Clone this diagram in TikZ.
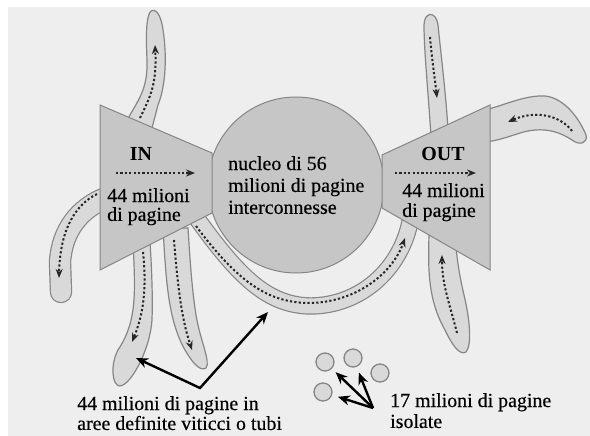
\documentclass[tikz,border=0pt]{standalone}
\usepackage{fontspec}
\setmainfont{LiberationSerif}[Extension=.ttf, UprightFont=*-Regular, BoldFont=*-Bold,
  ItalicFont=*-Italic, BoldItalicFont=*-BoldItalic, UprightFeatures={FakeBold=0.4}]
\usetikzlibrary{arrows.meta}
\definecolor{bggray}{HTML}{EEEEEE}
\definecolor{bodygray}{HTML}{C6C6C6}
\definecolor{tubegray}{HTML}{D9D9D9}
\definecolor{edgegray}{HTML}{868686}

\begin{document}
\begin{tikzpicture}[x=1bp,y=-1bp,
    tube/.style={draw=tubegray, line width=#1, line cap=round, line join=round,
      preaction={draw=edgegray, line width=#1+2.4bp, line cap=round, line join=round}},
    tubeshape/.style={fill=tubegray, draw=edgegray, line width=1.2bp},
    flow/.style={draw=black!85, line width=2bp, dash pattern=on 2.2bp off 2.2bp,
      -{Stealth[length=9bp,width=7bp]}},
    pointer/.style={draw=black, line width=2.4bp, -{Stealth[length=12bp,width=10bp]}},
    body/.style={fill=bodygray, draw=edgegray, line width=1bp},
    txt/.style={inner sep=0pt, font=\fontsize{20}{20}\selectfont, align=left},
    lonepage/.style={circle, minimum size=18bp, inner sep=0pt, fill=tubegray,
      draw=edgegray, line width=1.3bp}]
    \useasboundingbox (0,0) rectangle (590,436);
    % paper
    \fill[white] (0,0) rectangle (590,436);
    \fill[bggray] (8,7) rectangle (590,436);
    % tendrils of IN
    \filldraw[tubeshape] (126,122) .. controls (138,100) and (148,90) .. (147,60) .. controls (146,35) and (146,20) .. (150,12) .. controls (155,7) and (161,14) .. (163,30) .. controls (167,55) and (166,85) .. (158,105) -- (152,128) -- cycle;
    \draw[flow] (140,118) .. controls (150,97) and (157,85) .. (155,45);
    \draw[tube=20bp] (106,198) .. controls (80,208) and (62,230) .. (60,262) -- (61,292);
    \draw[flow] (97,194) .. controls (75,205) and (60,230) .. (59,278);
    \filldraw[tubeshape] (133,240) .. controls (135,290) and (138,320) .. (118,350) .. controls (110,365) and (112,386) .. (120,386) .. controls (131,385) and (150,350) .. (152,320) .. controls (153,290) and (151,260) .. (150,240) -- cycle;
    \draw[flow] (143,252) .. controls (147,290) and (143,315) .. (132,342);
    \filldraw[tubeshape] (163,228) .. controls (166,280) and (168,320) .. (185,350) .. controls (192,362) and (200,372) .. (206,368) .. controls (211,362) and (200,340) .. (196,315) .. controls (192,290) and (190,260) .. (188,228) -- cycle;
    \draw[flow] (174,240) .. controls (178,290) and (182,320) .. (192,350);
    % tube from IN round to OUT
    \draw[tube=15bp] (198,220) .. controls (240,278) and (268,305) .. (310,306) .. controls (360,306) and (400,270) .. (410,222);
    \draw[flow] (196,226) .. controls (238,282) and (268,303) .. (310,303) .. controls (358,302) and (393,272) .. (405,238);
    % tendrils of OUT
    \filldraw[tubeshape] (429,235) .. controls (428,270) and (428,300) .. (445,330) .. controls (452,345) and (460,356) .. (466,352) .. controls (472,345) and (470,320) .. (464,295) .. controls (458,270) and (456,250) .. (455,235) -- cycle;
    \draw[flow] (457,333) .. controls (450,305) and (442,285) .. (442,255);
    \filldraw[tubeshape] (431,136) .. controls (428,90) and (424,50) .. (424,25) .. controls (424,12) and (436,10) .. (438,25) .. controls (441,55) and (446,95) .. (448,130) -- cycle;
    \draw[flow] (430,37) .. controls (432,60) and (435,80) .. (437,98);
    \filldraw[tubeshape] (485,110) .. controls (505,105) and (525,95) .. (545,96) .. controls (565,98) and (580,120) .. (586,135) .. controls (588,143) and (580,146) .. (572,140) .. controls (560,132) and (548,129) .. (535,130) .. controls (520,131) and (505,140) .. (485,142) -- cycle;
    \draw[flow] (572,131) .. controls (560,115) and (535,110) .. (508,122);
    % core and the two funnels
    \filldraw[body] (296,185) circle (88);
    \filldraw[body] (100,105) -- (212,153) -- (212,213) -- (100,270) -- cycle;
    \filldraw[body] (382,155) -- (490,105) -- (490,270) -- (382,208) -- cycle;
    \draw[flow] (116,173) -- (195,173);
    \draw[flow] (395,173) -- (476,173);
    % texts
    \node[txt] (inname) at (141,154) {\textbf{IN}};
    \node[txt, anchor=north west, font=\fontsize{20}{19}\selectfont] (incount) at (107,188) {44 milioni\\di pagine};
    \node[txt] (outname) at (443,154) {\textbf{OUT}};
    \node[txt, anchor=north west, font=\fontsize{20}{20}\selectfont] (outcount) at (402,183) {44 milioni\\di pagine};
    \node[txt, anchor=north west, font=\fontsize{20}{22}\selectfont] (core) at (228,156) {nucleo di 56\\milioni di pagine\\interconnesse};
    \node[txt, anchor=north west] (vines) at (77,396) {44 milioni di pagine in\\aree definite viticci o tubi};
    \node[txt, anchor=north west, font=\fontsize{20}{21}\selectfont] (lonely) at (390,393) {17 milioni di pagine\\isolate};
    % pointers to the tendrils
    \coordinate (vineleft) at (136,358);
    \coordinate (vinefork) at (200,388);
    \coordinate (vinearc) at (268,312);
    \draw[pointer, {Stealth[length=12bp,width=10bp]}-{Stealth[length=12bp,width=10bp]}] (vineleft) -- (vinefork) -- (vinearc);
    % isolated pages
    \node[lonepage] (p1) at (325,362) {};
    \node[lonepage] (p2) at (353,358) {};
    \node[lonepage] (p3) at (380,373) {};
    \node[lonepage] (p4) at (323,392) {};
    \coordinate (lonefork) at (373,408);
    \draw[pointer, shorten >=5bp] (lonefork) -- (p1);
    \draw[pointer, shorten >=6bp] (lonefork) -- (p2);
    \draw[pointer, shorten >=6bp] (lonefork) -- (p4);
\end{tikzpicture}
\end{document}
